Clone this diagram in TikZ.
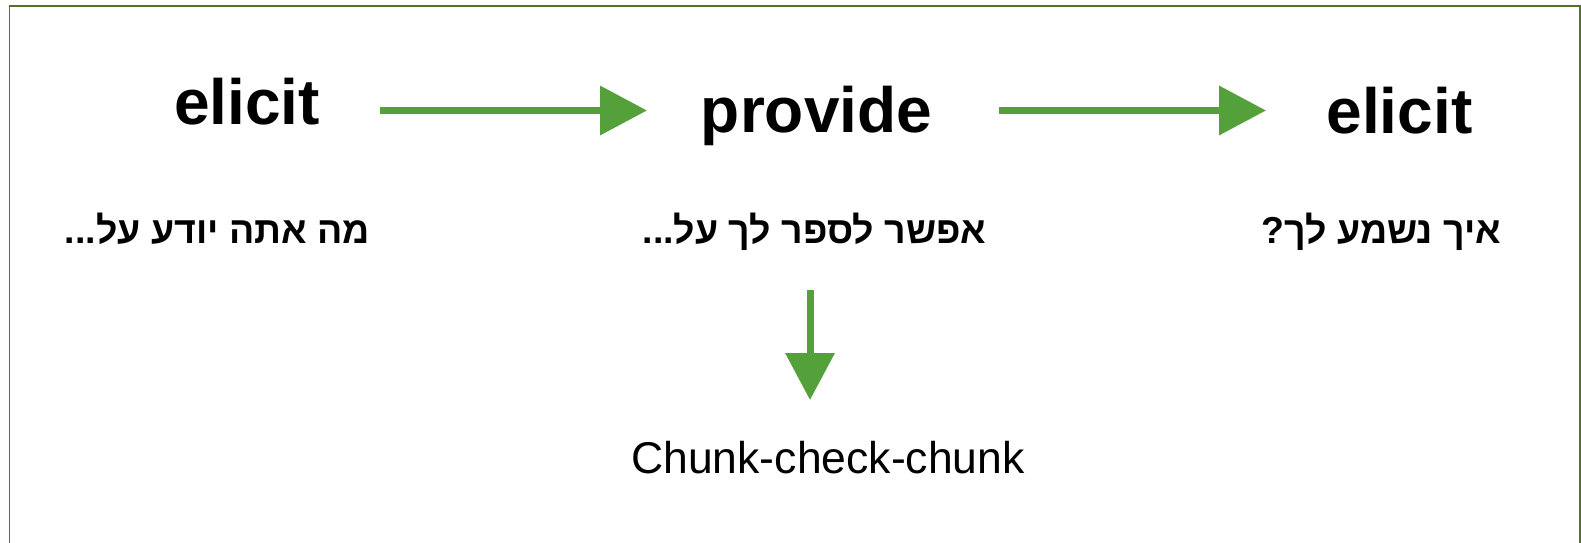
\documentclass[tikz,border=0pt]{standalone}
\usepackage{fontspec}
\setmainfont{Liberation Sans}
\newfontfamily\hebfont[Script=Hebrew]{Liberation Sans}
\TeXXeTstate=1
\usetikzlibrary{arrows.meta}
\definecolor{arrowgreen}{RGB}{84,160,58}
\definecolor{framegreen}{RGB}{86,112,44}
\tikzset{
  arr/.style={draw=arrowgreen, line width=7pt, -{Triangle[length=47pt,width=48pt]}, arrowgreen},
  bigword/.style={anchor=base, inner sep=0pt, font=\fontsize{64}{76}\selectfont\bfseries},
  hebtext/.style={anchor=base, inner sep=0pt, font=\fontsize{37.5}{45}\selectfont\hebfont\bfseries},
  plaintext/.style={anchor=base, inner sep=0pt, font=\fontsize{44.5}{53}\selectfont},
  frame/.style={draw=framegreen, line width=1.5pt}
}
\begin{document}
\begin{tikzpicture}[x=1pt,y=-1pt]
\useasboundingbox (0,0) rectangle (1581,543);
\draw[frame] (9.5,6) rectangle (1580,560);
\node[bigword] (e1) at (247,124) {elicit};
\node[bigword] (pr) at (816.5,132) {provide};
\node[bigword] (e2) at (1399.5,133) {elicit};
\node[hebtext] (h1) at (217.5,243) {\beginR מה אתה יודע על...\endR};
\node[hebtext] (h2) at (814.5,243) {\beginR אפשר לספר לך על...\endR};
\node[hebtext] (h3) at (1381.5,243) {\beginR איך נשמע לך?\endR};
\node[plaintext] (cc) at (828,473) {Chunk-check-chunk};
\coordinate (a1s) at (380,110.5);
\coordinate (a1e) at (647,110.5);
\coordinate (a2s) at (999,110.5);
\coordinate (a2e) at (1266,110.5);
\coordinate (a3s) at (810,290);
\coordinate (a3e) at (810,400);
\draw[arr] (a1s) -- (a1e);
\draw[arr] (a2s) -- (a2e);
\draw[arr] (a3s) -- (a3e);
\end{tikzpicture}
\end{document}
